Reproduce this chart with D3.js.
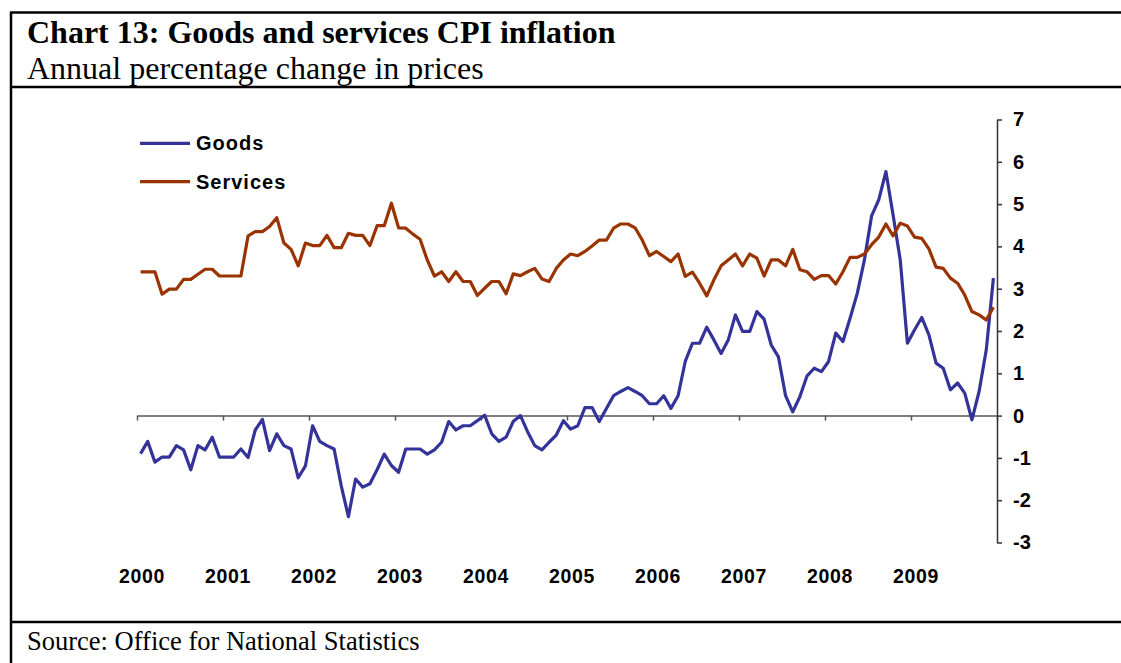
<!DOCTYPE html>
<html>
<head>
<meta charset="utf-8">
<script src="https://cdn.jsdelivr.net/npm/d3@7"></script>
<style>
  html, body { margin: 0; padding: 0; background: #fff; }
  svg { display: block; }
</style>
</head>
<body>
<svg id="chart" width="1121" height="663"></svg>
<script>
// Annual % change, monthly, Jan 2000 – Dec 2009
const goods = [
  -0.90, -0.61, -1.10, -0.98, -0.98, -0.71, -0.81, -1.28, -0.71, -0.81, -0.51, -0.98,
  -0.98, -0.98, -0.79, -0.99, -0.34, -0.09, -0.83, -0.43, -0.71, -0.79, -1.47, -1.19,
  -0.24, -0.61, -0.71, -0.79, -1.66, -2.39, -1.50, -1.69, -1.61, -1.28, -0.91, -1.18,
  -1.34, -0.79, -0.79, -0.79, -0.91, -0.81, -0.63, -0.14, -0.34, -0.24, -0.24, -0.12,
   0.01, -0.43, -0.61, -0.51, -0.14,  0.00, -0.38, -0.71, -0.81, -0.63, -0.46, -0.12,
  -0.32, -0.24,  0.19,  0.19, -0.14,  0.17,  0.47,  0.57,  0.66,  0.57,  0.47,  0.28,
   0.28,  0.47,  0.17,  0.47,  1.28,  1.71,  1.71,  2.09,  1.79,  1.47,  1.79,  2.38,
   1.99,  1.99,  2.46,  2.28,  1.67,  1.39,  0.47,  0.09,  0.45,  0.94,  1.12,  1.04,
   1.28,  1.95,  1.75,  2.30,  2.89,  3.68,  4.72,  5.10,  5.77,  4.74,  3.68,  1.71,
   2.03,  2.32,  1.91,  1.24,  1.12,  0.61,  0.77,  0.53, -0.10,  0.57,  1.55,  3.25
];
const services = [
  3.40, 3.40, 3.40, 2.87, 2.99, 2.99, 3.22, 3.22, 3.34, 3.46, 3.46, 3.30,
  3.30, 3.30, 3.30, 4.25, 4.35, 4.35, 4.47, 4.68, 4.08, 3.93, 3.54, 4.08,
  4.02, 4.02, 4.26, 3.97, 3.97, 4.31, 4.26, 4.26, 4.02, 4.49, 4.49, 5.02,
  4.44, 4.43, 4.29, 4.17, 3.68, 3.30, 3.40, 3.17, 3.40, 3.17, 3.17, 2.84,
  3.01, 3.17, 3.17, 2.88, 3.35, 3.31, 3.40, 3.48, 3.23, 3.17, 3.48, 3.68,
  3.82, 3.78, 3.88, 4.01, 4.15, 4.15, 4.43, 4.53, 4.53, 4.44, 4.15, 3.78,
  3.88, 3.76, 3.64, 3.82, 3.29, 3.39, 3.13, 2.83, 3.21, 3.54, 3.68, 3.82,
  3.54, 3.82, 3.72, 3.30, 3.68, 3.68, 3.54, 3.93, 3.45, 3.40, 3.22, 3.31,
  3.31, 3.11, 3.40, 3.74, 3.74, 3.82, 4.04, 4.22, 4.53, 4.25, 4.55, 4.48,
  4.22, 4.19, 3.94, 3.51, 3.48, 3.25, 3.13, 2.85, 2.46, 2.38, 2.26, 2.56
];
const years = [2000, 2001, 2002, 2003, 2004, 2005, 2006, 2007, 2008, 2009];
const yTicks = [-3, -2, -1, 0, 1, 2, 3, 4, 5, 6, 7];
const seriesNames = ["Goods", "Services"];
const seriesColors = ["#333399", "#993300"];

const svg = d3.select("#chart");
const W = 1121, H = 663;
const serif = "'Liberation Serif', 'Times New Roman', serif";
const sans = "'Liberation Sans', Arial, sans-serif";

// Frame: left rule, header rules and footer rule
const frame = svg.append("g").attr("stroke", "#000").attr("stroke-width", 2.5);
frame.append("line").attr("x1", 11).attr("x2", 11).attr("y1", 12).attr("y2", H);
frame.append("line").attr("x1", 10).attr("x2", W).attr("y1", 12.5).attr("y2", 12.5);
frame.append("line").attr("x1", 10).attr("x2", W).attr("y1", 87).attr("y2", 87);
frame.append("line").attr("x1", 10).attr("x2", W).attr("y1", 622).attr("y2", 622);

// Titles
svg.append("text")
  .attr("x", 27).attr("y", 43)
  .attr("font-family", serif)
  .attr("font-weight", "bold").attr("font-size", 32)
  .text("Chart 13: Goods and services CPI inflation");
svg.append("text")
  .attr("x", 27).attr("y", 79)
  .attr("font-family", serif)
  .attr("font-size", 32)
  .text("Annual percentage change in prices");
svg.append("text")
  .attr("x", 27).attr("y", 650)
  .attr("font-family", serif)
  .attr("font-size", 26.5)
  .text("Source: Office for National Statistics");

// Scales
const x = d3.scaleLinear().domain([2000, 2010]).range([137, 997]);
const y = d3.scaleLinear().domain([-3, 7]).range([542.5, 119.5]);
const monthX = i => x(2000 + (i + 0.5) / 12);

// Zero line with year ticks
const xAxis = svg.append("g")
  .attr("transform", `translate(0,${y(0)})`)
  .call(d3.axisBottom(x).tickValues(d3.range(2000, 2011)).tickSize(5).tickSizeOuter(0).tickFormat(""));
xAxis.select(".domain").attr("stroke", "#808080").attr("stroke-width", 2);
xAxis.selectAll(".tick line").attr("stroke", "#555").attr("stroke-width", 1.5);

// Year labels
svg.append("g").selectAll("text").data(years).join("text")
  .attr("x", d => x(d) + 5).attr("y", 583)
  .attr("text-anchor", "middle")
  .attr("font-family", sans)
  .attr("font-weight", "bold").attr("font-size", 19.5)
  .attr("letter-spacing", 0.6)
  .text(d => d);

// Right-hand value axis
const yAxis = svg.append("g")
  .attr("transform", `translate(997,0)`)
  .call(d3.axisRight(y).tickValues(yTicks).tickSize(5).tickSizeOuter(0).tickPadding(11).tickFormat(d => String(d)));
yAxis.select(".domain").attr("stroke", "#333").attr("stroke-width", 1.5);
yAxis.selectAll(".tick line").attr("stroke", "#333").attr("stroke-width", 1.5);
yAxis.selectAll(".tick text")
  .attr("font-family", sans)
  .attr("font-weight", "bold").attr("font-size", 20)
  .attr("fill", "#000");

// Series lines
const line = d3.line().x((d, i) => monthX(i)).y(d => y(d));
[goods, services].forEach((vals, k) => {
  svg.append("path")
    .datum(vals)
    .attr("fill", "none")
    .attr("stroke", seriesColors[k])
    .attr("stroke-width", 3.2)
    .attr("stroke-linejoin", "round")
    .attr("d", line);
});

// Legend
const legend = svg.append("g");
seriesNames.forEach((name, k) => {
  const ly = 143.3 + k * 38.4;
  legend.append("line")
    .attr("x1", 140).attr("x2", 190).attr("y1", ly).attr("y2", ly)
    .attr("stroke", seriesColors[k]).attr("stroke-width", 3.2);
  legend.append("text")
    .attr("x", 196).attr("y", ly + 7)
    .attr("font-family", sans)
    .attr("font-weight", "bold").attr("font-size", 20)
    .attr("letter-spacing", 1)
    .text(name);
});
</script>
</body>
</html>
